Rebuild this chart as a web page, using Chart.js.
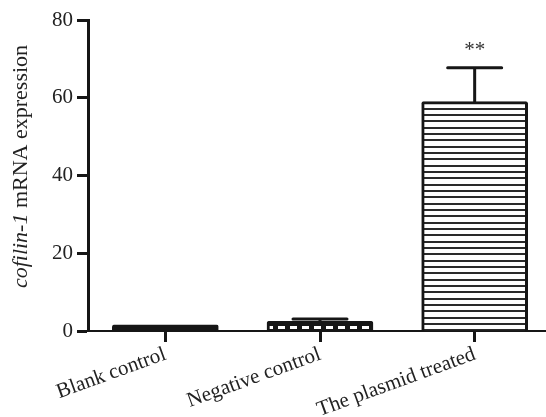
<!DOCTYPE html>
<html>
<head>
<meta charset="utf-8">
<script src="https://cdn.jsdelivr.net/npm/chart.js@4.4.0/dist/chart.umd.min.js"></script>
<style>
html,body{margin:0;padding:0;background:#fff;overflow:hidden;}
#wrap{width:552px;height:417px;}
</style>
</head>
<body>
<div id="wrap"><canvas id="c" width="552" height="417"></canvas></div>
<script>
const categories = ["Blank control", "Negative control", "The plasmid treated"];
const expression = [1.6, 2.5, 59];
const errorUp = [0, 0.6, 8.7];
const significance = ["", "", "**"];
const yTicks = [0, 20, 40, 60, 80];

const FONT = "'Liberation Serif', 'Times New Roman', serif";
const INK = '#161616';

function stripePattern() {
  const t = document.createElement('canvas');
  t.width = 8; t.height = 19;
  const g = t.getContext('2d');
  g.fillStyle = '#fff'; g.fillRect(0, 0, 8, 19);
  g.fillStyle = '#2a2a2a';
  g.fillRect(0, 0, 8, 2);
  g.fillRect(0, 6, 8, 2);
  g.fillRect(0, 13, 8, 2);
  return document.getElementById('c').getContext('2d').createPattern(t, 'repeat');
}
function dashPattern() {
  const t = document.createElement('canvas');
  t.width = 12; t.height = 9;
  const g = t.getContext('2d');
  g.fillStyle = INK; g.fillRect(0, 0, 12, 9);
  g.fillStyle = '#fff';
  g.fillRect(2, 2, 7, 3);
  return document.getElementById('c').getContext('2d').createPattern(t, 'repeat');
}

const fills = [INK, dashPattern(), stripePattern()];

const extras = {
  id: 'extras',
  afterDatasetsDraw(chart) {
    const ctx = chart.ctx;
    const xs = chart.scales.x, ys = chart.scales.y;
    ctx.save();
    ctx.strokeStyle = INK;
    ctx.lineWidth = 3;
    ctx.lineCap = 'round';
    for (let i = 0; i < categories.length; i++) {
      if (!errorUp[i]) continue;
      const x = xs.getPixelForValue(i);
      const y0 = ys.getPixelForValue(expression[i]);
      const y1 = ys.getPixelForValue(expression[i] + errorUp[i]);
      ctx.beginPath();
      ctx.moveTo(x, y0); ctx.lineTo(x, y1);
      ctx.moveTo(x - 27, y1); ctx.lineTo(x + 27, y1);
      ctx.stroke();
      if (significance[i]) {
        ctx.fillStyle = '#333';
        ctx.font = '21px ' + FONT;
        ctx.textAlign = 'center';
        ctx.textBaseline = 'alphabetic';
        ctx.fillText(significance[i], x, y1 - 12);
      }
    }
    ctx.restore();
  },
  afterDraw(chart) {
    const ctx = chart.ctx;
    const ys = chart.scales.y;
    const cy = (ys.top + ys.bottom) / 2 - 9;
    ctx.save();
    ctx.translate(21, cy);
    ctx.rotate(-Math.PI / 2);
    ctx.fillStyle = '#222';
    ctx.textBaseline = 'middle';
    const p1 = 'cofilin-1', p2 = ' mRNA expression';
    ctx.font = 'italic 22px ' + FONT;
    const w1 = ctx.measureText(p1).width;
    ctx.font = '22px ' + FONT;
    const w2 = ctx.measureText(p2).width;
    const start = -(w1 + w2) / 2;
    ctx.textAlign = 'left';
    ctx.font = 'italic 22px ' + FONT;
    ctx.fillText(p1, start, 0);
    ctx.font = '22px ' + FONT;
    ctx.fillText(p2, start + w1, 0);
    ctx.restore();
  }
};

new Chart(document.getElementById('c'), {
  type: 'bar',
  data: {
    labels: categories,
    datasets: [{
      data: expression,
      backgroundColor: fills,
      borderColor: INK,
      borderWidth: 3,
      borderSkipped: 'bottom',
      borderRadius: 2,
      barThickness: 106
    }]
  },
  options: {
    responsive: false,
    animation: false,
    events: [],
    layout: { padding: { top: 20, left: 0, right: 0, bottom: 0 } },
    plugins: { legend: { display: false }, tooltip: { enabled: false } },
    scales: {
      x: {
        type: 'category',
        offset: true,
        grid: { display: true, drawOnChartArea: false, drawTicks: true, tickLength: 11, tickWidth: 3, tickColor: INK, offset: false },
        border: { display: true, width: 2, color: INK },
        ticks: { color: '#222', font: { family: FONT, size: 21 }, minRotation: 20, maxRotation: 20, padding: 0, autoSkip: false },
        afterFit(s) { s.height = 86; }
      },
      y: {
        min: 0, max: 80,
        afterBuildTicks(s) { s.ticks = yTicks.map(v => ({ value: v })); },
        grid: { display: true, drawOnChartArea: false, drawTicks: true, tickLength: 11, tickWidth: 3, tickColor: INK },
        border: { display: true, width: 3, color: INK },
        ticks: { color: '#222', font: { family: FONT, size: 21 }, padding: 4 },
        afterFit(s) { s.width = 88; }
      }
    }
  },
  plugins: [extras]
});
</script>
</body>
</html>
